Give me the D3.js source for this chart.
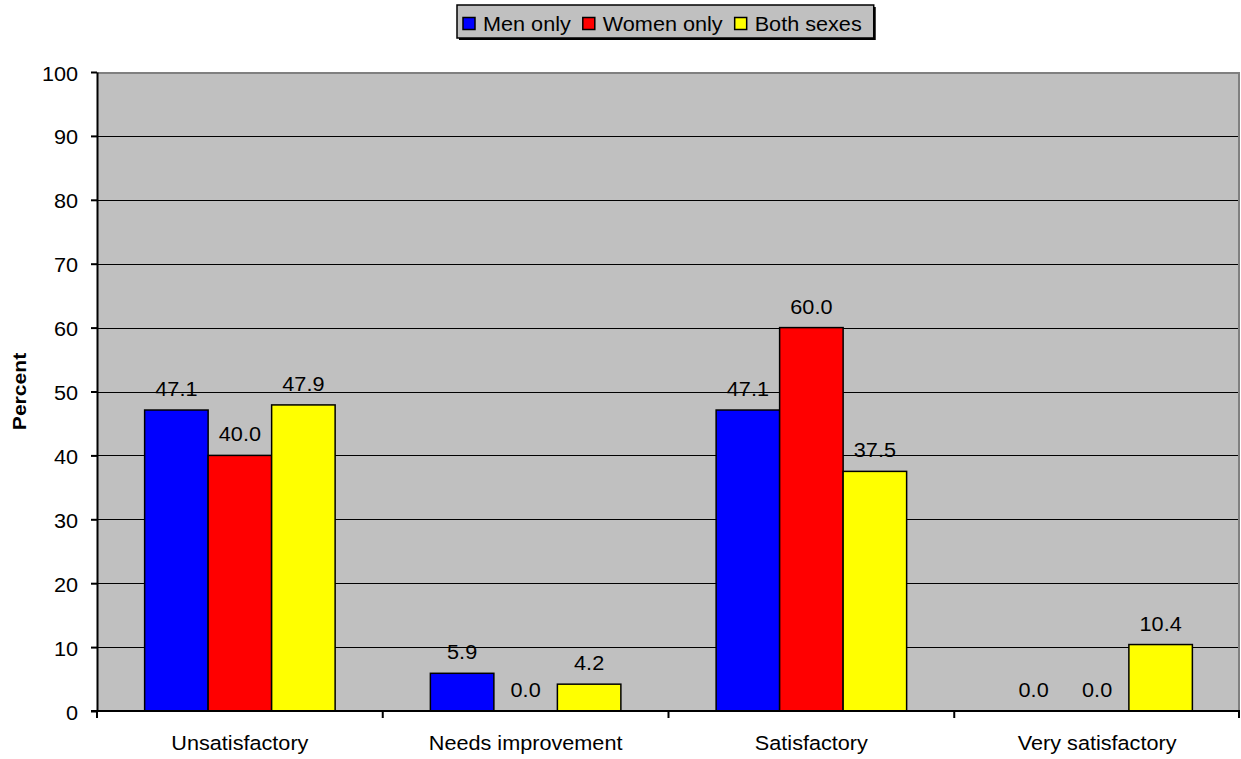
<!DOCTYPE html>
<html>
<head>
<meta charset="utf-8">
<script src="https://cdn.jsdelivr.net/npm/d3@7"></script>
<style>
  body { margin: 0; background: #fff; }
  text { font-family: "Liberation Sans", Arial, sans-serif; fill: #000; }
</style>
</head>
<body>
<div id="chart"></div>
<script>
// Chart data
const categories = ["Unsatisfactory", "Needs improvement", "Satisfactory", "Very satisfactory"];
const seriesNames = ["Men only", "Women only", "Both sexes"];
const menOnly = [47.1, 5.9, 47.1, 0.0];
const womenOnly = [40.0, 0.0, 60.0, 0.0];
const bothSexes = [47.9, 4.2, 37.5, 10.4];
const seriesColors = ["#0000FF", "#FF0000", "#FFFF00"];
const yTicks = [0, 10, 20, 30, 40, 50, 60, 70, 80, 90, 100];

const allSeries = [menOnly, womenOnly, bothSexes];

const W = 1241, H = 759;
const plot = { left: 97, right: 1240, top: 72, bottom: 711 };
const sx = 1.11; // source chart text is a bit wider than Arial
const fontSize = 19.5;

let svg = d3.select("#chart")
    .append("svg")
    .attr("width", W)
    .attr("height", H);

// helper for widened text
function addText(g, x, y, str, anchor, opts = {}) {
    return g.append("text")
        .attr("transform", `translate(${x},${y}) scale(${sx},1)`)
        .attr("text-anchor", anchor)
        .style("font-size", (opts.size || fontSize) + "px")
        .style("font-weight", opts.bold ? "bold" : "normal")
        .text(str);
}

// Scales
let x0 = d3.scaleBand()
    .domain(categories)
    .range([plot.left, plot.right])
    .padding(0);

let x1 = d3.scaleBand()
    .domain(seriesNames)
    .range([0, x0.bandwidth()])
    .paddingInner(0)
    .paddingOuter(0.75);

let y = d3.scaleLinear()
    .domain([0, 100])
    .range([plot.bottom, plot.top]);

// Plot background
svg.append("rect")
    .attr("x", plot.left)
    .attr("y", plot.top)
    .attr("width", plot.right - plot.left)
    .attr("height", plot.bottom - plot.top)
    .attr("fill", "#C0C0C0");

// Gridlines
svg.append("g")
    .selectAll("line")
    .data(yTicks.filter(d => d > 0 && d < 100))
    .enter().append("line")
    .attr("x1", plot.left)
    .attr("x2", plot.right)
    .attr("y1", d => Math.round(y(d)) + 0.5)
    .attr("y2", d => Math.round(y(d)) + 0.5)
    .attr("stroke", "#000")
    .attr("stroke-width", 1.2);

// Gray border on top and right
svg.append("path")
    .attr("d", `M${plot.left},${plot.top + 1} H${plot.right - 1} V${plot.bottom}`)
    .attr("fill", "none")
    .attr("stroke", "#808080")
    .attr("stroke-width", 2);

// Bars
let groups = svg.append("g")
    .selectAll("g")
    .data(categories)
    .enter().append("g")
    .attr("transform", d => `translate(${x0(d)},0)`);

groups.each(function (cat, ci) {
    let g = d3.select(this);
    seriesNames.forEach((s, si) => {
        let v = allSeries[si][ci];
        if (v > 0) {
            g.append("rect")
                .attr("x", x1(s))
                .attr("y", y(v))
                .attr("width", x1.bandwidth())
                .attr("height", y(0) - y(v))
                .attr("fill", seriesColors[si])
                .attr("stroke", "#000")
                .attr("stroke-width", 1.5);
        }
        addText(g, x1(s) + x1.bandwidth() / 2, y(v) - 14, v.toFixed(1), "middle");
    });
});

// Y axis
let yAxis = svg.append("g")
    .attr("transform", `translate(${plot.left},0)`)
    .call(d3.axisLeft(y).tickValues(yTicks).tickSize(6).tickSizeOuter(0));
yAxis.select(".domain").attr("stroke", "#000").attr("stroke-width", 2);
yAxis.selectAll(".tick line").attr("stroke", "#000").attr("stroke-width", 2);
yAxis.selectAll(".tick text")
    .attr("x", 0)
    .attr("dy", 0)
    .attr("transform", `translate(-19,8) scale(${sx},1)`)
    .style("font-size", fontSize + "px")
    .style("font-family", "'Liberation Sans', Arial, sans-serif")
    .attr("fill", "#000");

// X axis line and boundary ticks
svg.append("line")
    .attr("x1", plot.left - 6)
    .attr("x2", plot.right)
    .attr("y1", plot.bottom)
    .attr("y2", plot.bottom)
    .attr("stroke", "#000")
    .attr("stroke-width", 2);

let bounds = categories.map(c => x0(c)).concat([x0.range()[1] - 1]);
svg.append("g")
    .selectAll("line")
    .data(bounds)
    .enter().append("line")
    .attr("x1", d => d)
    .attr("x2", d => d)
    .attr("y1", plot.bottom)
    .attr("y2", plot.bottom + 7)
    .attr("stroke", "#000")
    .attr("stroke-width", 2);

// Category labels
categories.forEach(c => {
    addText(svg, x0(c) + x0.bandwidth() / 2, 750, c, "middle");
});

// Y axis title
svg.append("text")
    .attr("transform", `translate(25.5,${(plot.top + plot.bottom) / 2}) rotate(-90) scale(${sx},1)`)
    .attr("text-anchor", "middle")
    .style("font-size", "19px")
    .style("font-weight", "bold")
    .text("Percent");

// Legend
let legend = svg.append("g");
let items = legend.selectAll("g")
    .data(seriesNames)
    .enter().append("g");

items.each(function (d, i) {
    let g = d3.select(this);
    g.append("rect")
        .attr("x", 0).attr("y", -6.5)
        .attr("width", 12).attr("height", 12)
        .attr("fill", seriesColors[i])
        .attr("stroke", "#000")
        .attr("stroke-width", 1.5);
    addText(g, 20, 6.5, d, "start");
});

// lay out legend items horizontally
const legendLeft = 457, legendY = 24;
let cursor = legendLeft + 6;
items.each(function () {
    let g = d3.select(this);
    g.attr("transform", `translate(${cursor},${legendY})`);
    let tw = g.select("text").node().getComputedTextLength() * sx;
    cursor += 20 + tw + 12;
});
let legendWidth = cursor - legendLeft;

legend.insert("rect", ":first-child")
    .attr("x", legendLeft + 2)
    .attr("y", 5 + 2)
    .attr("width", legendWidth)
    .attr("height", 33)
    .attr("fill", "#000");
legend.insert("rect", ":nth-child(2)")
    .attr("x", legendLeft)
    .attr("y", 5)
    .attr("width", legendWidth)
    .attr("height", 33)
    .attr("fill", "#C0C0C0")
    .attr("stroke", "#000")
    .attr("stroke-width", 1.5);
</script>
</body>
</html>
